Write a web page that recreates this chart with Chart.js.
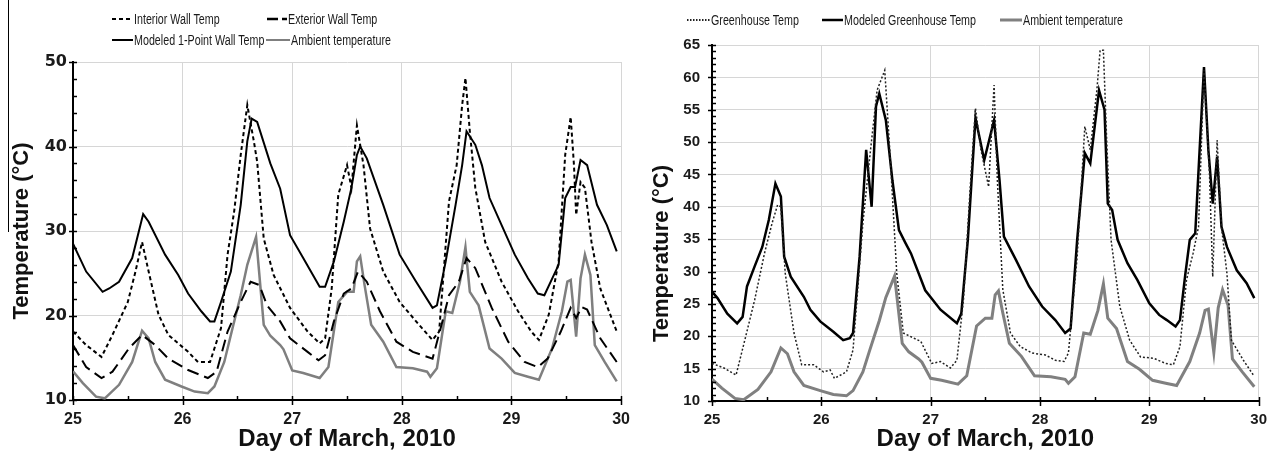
<!DOCTYPE html>
<html>
<head>
<meta charset="utf-8">
<script src="https://cdn.jsdelivr.net/npm/chart.js@4.4.1/dist/chart.umd.min.js"></script>
<style>
  html,body{margin:0;padding:0;background:#fff;}
  #wrap{position:relative;width:1277px;height:460px;overflow:hidden;background:#fff;}
  canvas{position:absolute;top:0;}
  .lg{position:absolute;font-family:"Liberation Sans",Arial,sans-serif;font-size:14px;line-height:16px;color:#1a1a1a;white-space:nowrap;transform:scaleX(0.765);transform-origin:0 50%;}
  .sw{position:absolute;}
  #edge{position:absolute;left:8px;top:0;width:1px;height:232px;background:#000;}
</style>
</head>
<body>
<div id="wrap">
  <div id="edge"></div>
  <canvas id="c1" width="640" height="460" style="left:0"></canvas>
  <canvas id="c2" width="637" height="460" style="left:640px"></canvas>
</div>
<script>
// ---------- DATA ----------
const dayTicks = ["25","26","27","28","29","30"];

// Ambient temperature (shared by both panels)
const ambDay = [25.00,25.09,25.21,25.29,25.42,25.54,25.63,25.69,25.75,25.84,25.99,26.11,26.23,26.29,26.38,26.44,26.53,26.59,26.67,26.74,26.80,26.89,26.92,27.00,27.10,27.25,27.33,27.42,27.50,27.56,27.59,27.62,27.66,27.72,27.83,27.95,28.10,28.23,28.26,28.32,28.40,28.46,28.53,28.58,28.62,28.70,28.80,28.91,29.03,29.15,29.25,29.37,29.46,29.51,29.54,29.59,29.63,29.67,29.72,29.76,29.85,29.96];
const ambT   = [13.4,12.0,10.4,10.2,11.8,14.5,18.2,17.3,14.5,12.4,11.6,11.0,10.8,11.6,14.5,17.7,22.4,26.0,29.3,18.9,17.6,16.5,16.0,13.5,13.2,12.6,13.9,21.6,22.8,22.8,26.4,27.0,23.6,18.9,16.9,13.9,13.75,13.35,12.75,13.75,20.5,20.3,24.0,28.1,22.8,21.2,16.1,14.9,13.2,12.75,12.4,16.1,20.5,24.0,24.2,17.5,24.4,27.2,24.8,16.5,14.5,12.2];

// Left panel: Modeled 1-Point Wall Temp
const mwDay = [25.00,25.12,25.27,25.33,25.42,25.54,25.64,25.69,25.84,25.96,26.05,26.17,26.25,26.29,26.35,26.44,26.53,26.59,26.63,26.68,26.80,26.89,26.98,27.10,27.25,27.30,27.38,27.47,27.54,27.59,27.62,27.68,27.83,27.98,28.13,28.28,28.32,28.40,28.49,28.55,28.59,28.67,28.73,28.80,28.91,29.03,29.15,29.24,29.30,29.43,29.49,29.54,29.58,29.63,29.69,29.78,29.87,29.96];
const mwT   = [28.5,25.2,22.8,23.2,24.0,26.8,32.0,31.1,27.2,24.8,22.6,20.5,19.3,19.3,21.6,25.2,33.1,40.6,43.3,42.9,38.0,35.0,29.5,26.8,23.4,23.4,26.4,31.1,35.1,39.0,40.0,38.6,33.1,27.2,24.0,20.9,21.2,26.4,33.1,37.8,41.8,40.2,37.8,33.9,30.7,27.2,24.4,22.6,22.4,26.0,33.9,35.2,35.2,38.4,37.8,33.1,30.7,27.6];

// Left panel: Interior Wall Temp
const iwDay = [25.00,25.12,25.26,25.36,25.50,25.57,25.63,25.69,25.78,25.87,26.05,26.14,26.25,26.35,26.41,26.47,26.53,26.59,26.65,26.68,26.74,26.83,26.98,27.14,27.25,27.30,27.36,27.42,27.50,27.54,27.59,27.65,27.71,27.83,27.98,28.13,28.28,28.34,28.37,28.43,28.50,28.55,28.58,28.62,28.67,28.76,28.91,29.06,29.18,29.25,29.34,29.43,29.49,29.54,29.57,29.59,29.63,29.67,29.73,29.81,29.96];
const iwT   = [18.1,16.5,15.1,17.7,21.6,25.2,28.7,25.2,20.1,17.7,15.7,14.5,14.5,18.5,27.2,32.3,39.0,44.9,40.6,38.2,29.1,24.8,20.9,18.1,16.7,17.3,23.2,34.3,37.8,35.1,42.5,37.8,30.3,25.2,21.6,19.3,17.1,18.1,23.2,33.5,37.8,44.9,48.1,41.8,35.1,28.7,24.0,20.5,18.1,17.1,20.1,26.4,39.0,43.5,37.8,31.9,35.8,35.1,28.7,23.2,18.1];

// Left panel: Exterior Wall Temp
const ewDay = [25.00,25.12,25.26,25.36,25.51,25.63,25.75,25.87,26.05,26.23,26.31,26.41,26.53,26.62,26.70,26.77,26.89,26.98,27.14,27.24,27.30,27.38,27.47,27.54,27.60,27.68,27.80,27.95,28.10,28.28,28.37,28.43,28.52,28.59,28.67,28.82,28.97,29.12,29.24,29.33,29.45,29.54,29.59,29.64,29.69,29.81,29.96];
const ewT   = [16.5,13.9,12.6,13.35,16.1,17.7,16.5,14.9,13.55,12.6,13.35,18.1,21.6,24.0,23.6,21.2,19.3,17.3,15.7,14.7,15.3,19.3,22.6,23.2,25.2,24.0,20.5,16.9,15.7,14.9,19.3,22.4,24.0,26.8,25.6,20.9,16.9,14.5,13.9,14.9,18.1,20.9,19.7,21.0,20.7,17.3,14.5];

// Right panel: Modeled Greenhouse Temp
const mgDay = [25.00,25.05,25.14,25.23,25.28,25.32,25.39,25.46,25.52,25.58,25.63,25.66,25.72,25.84,25.90,25.99,26.11,26.20,26.26,26.29,26.35,26.41,26.46,26.50,26.53,26.59,26.65,26.71,26.77,26.82,26.95,27.09,27.24,27.28,27.34,27.41,27.49,27.58,27.63,27.67,27.78,27.90,28.02,28.14,28.23,28.28,28.34,28.41,28.46,28.54,28.59,28.62,28.66,28.71,28.80,28.89,29.00,29.09,29.16,29.24,29.28,29.33,29.37,29.42,29.46,29.50,29.54,29.58,29.62,29.66,29.71,29.80,29.89,29.96];
const mgT   = [26.9,25.9,23.5,22.0,23.0,27.7,30.8,33.8,38.0,43.6,41.6,32.3,29.2,26.1,24.1,22.3,20.7,19.4,19.7,20.5,32.3,48.8,40.0,55.5,57.5,53.4,44.1,36.4,34.4,32.8,27.1,24.1,22.0,23.5,34.9,53.7,47.2,53.4,44.1,35.4,31.8,27.7,24.6,22.5,20.5,21.2,34.9,48.3,46.7,58.0,55.0,40.5,39.5,34.9,31.3,28.7,25.1,23.3,22.5,21.5,22.5,29.7,34.9,35.9,48.8,61.6,48.8,40.5,47.7,36.9,33.8,30.2,28.2,25.9];

// Right panel: Greenhouse Temp (measured)
const ghDay = [25.00,25.11,25.22,25.30,25.39,25.48,25.55,25.60,25.63,25.67,25.75,25.82,25.93,26.02,26.08,26.12,26.23,26.29,26.38,26.45,26.51,26.58,26.63,26.69,26.75,26.91,27.01,27.09,27.18,27.24,27.30,27.37,27.41,27.46,27.53,27.58,27.61,27.66,27.73,27.82,27.93,28.05,28.14,28.22,28.26,28.34,28.41,28.46,28.52,28.55,28.58,28.61,28.65,28.73,28.82,28.92,29.04,29.15,29.22,29.28,29.34,29.40,29.45,29.50,29.55,29.58,29.62,29.66,29.71,29.75,29.86,29.96];
const ghT   = [15.8,15.1,14.0,19.4,25.6,32.8,37.5,40.3,40.0,29.7,20.5,15.6,15.6,14.5,14.8,13.5,14.5,17.9,37.5,48.8,58.0,61.1,47.7,29.7,20.5,19.2,15.8,16.1,15.1,16.3,25.6,45.2,55.2,48.8,43.1,58.8,44.1,27.2,20.5,18.4,17.4,17.1,16.3,16.1,17.4,32.3,52.4,48.8,58.0,64.2,64.2,50.3,34.9,24.6,19.4,16.8,16.6,15.8,15.6,18.4,28.7,32.8,36.9,61.1,45.2,29.2,50.3,36.9,29.7,19.4,16.3,13.8];

const leftYTicks = ["10","20","30","40","50"];
const rightYTicks = ["10","15","20","25","30","35","40","45","50","55","60","65"];
// ---------- END DATA ----------

const pts = (xs, ys) => xs.map((x, i) => ({x, y: ys[i]}));
const FONT = '"Liberation Sans", Arial, Helvetica, sans-serif';

const tickMarks = {
  id: 'tickMarks',
  afterDraw(chart, args, o) {
    const {ctx, chartArea: a} = chart;
    const xs = chart.scales.x, ys = chart.scales.y;
    ctx.save();
    ctx.strokeStyle = '#000';
    ctx.lineWidth = 1.5;
    const ny = Math.round((ys.max - ys.min) / o.yMinor);
    for (let i = 0; i <= ny; i++) {
      const v = ys.min + i * o.yMinor;
      const major = Math.abs(v / o.yMajor - Math.round(v / o.yMajor)) < 1e-6;
      const py = Math.round(ys.getPixelForValue(v)) + 0.5;
      ctx.beginPath();
      ctx.moveTo(a.left - (major ? 4 : 0), py);
      ctx.lineTo(a.left + 4, py);
      ctx.stroke();
    }
    const nx = Math.round((xs.max - xs.min) / o.xMinor);
    for (let i = 0; i <= nx; i++) {
      const v = xs.min + i * o.xMinor;
      const major = Math.abs(v - Math.round(v)) < 1e-6;
      const px = Math.round(xs.getPixelForValue(v)) + 0.5;
      ctx.beginPath();
      ctx.moveTo(px, a.bottom + (major ? 5 : 0));
      ctx.lineTo(px, a.bottom - 4);
      ctx.stroke();
    }
    ctx.restore();
  }
};

function makeOptions(p) {
  return {
    responsive: false,
    animation: false,
    devicePixelRatio: 1,
    layout: {padding: {top: p.top, right: p.right, left: 0, bottom: 0}},
    plugins: {legend: {display: false}, tooltip: {enabled: false}, tickMarks: p.marks},
    elements: {point: {radius: 0}, line: {tension: 0}},
    scales: {
      x: {
        type: 'linear', min: 25, max: 30,
        afterFit: s => { s.height = p.xh; },
        afterBuildTicks: s => { s.ticks = dayTicks.map(t => ({value: Number(t)})); },
        grid: {color: '#d6d6d6', lineWidth: 1, drawTicks: false},
        border: {color: '#000', width: 2},
        ticks: {padding: 10, color: '#1a1a1a', font: {family: FONT, weight: 'bold', size: p.xtick}, maxRotation: 0,
                callback: v => dayTicks[Math.round(v - 25)]},
        title: {display: true, text: 'Day of March, 2010', color: '#111', padding: {top: 0, bottom: 6},
                font: {family: FONT, weight: 'bold', size: 24, lineHeight: 1.2}}
      },
      y: {
        type: 'linear', min: p.ymin, max: p.ymax,
        afterFit: s => { s.width = p.yw; },
        afterBuildTicks: s => { s.ticks = p.yticks.map(t => ({value: Number(t)})); },
        grid: {color: '#d6d6d6', lineWidth: 1, drawTicks: false},
        border: {color: '#000', width: 2},
        ticks: {padding: p.ypad, color: '#1a1a1a', font: {family: p.yfont, weight: 'bold', size: p.ytick},
                callback: v => String(v)},
        title: {display: true, text: p.ytitle, color: '#111', padding: {top: 9, bottom: 0},
                font: {family: FONT, weight: 'bold', size: 22, lineHeight: 1.2}}
      }
    }
  };
}

new Chart(document.getElementById('c1'), {
  type: 'line',
  data: {datasets: [
    {label: 'Interior Wall Temp', data: pts(iwDay, iwT), borderColor: '#000', borderWidth: 2, borderDash: [4, 3]},
    {label: 'Exterior Wall Temp', data: pts(ewDay, ewT), borderColor: '#000', borderWidth: 2, borderDash: [12, 6]},
    {label: 'Modeled 1-Point Wall Temp', data: pts(mwDay, mwT), borderColor: '#000', borderWidth: 2},
    {label: 'Ambient temperature', data: pts(ambDay, ambT), borderColor: '#7f7f7f', borderWidth: 2.5}
  ]},
  options: makeOptions({top: 62, right: 12, xh: 60, yw: 73, ymin: 10, ymax: 50, yticks: leftYTicks,
    ypad: 6, ytick: 16, xtick: 16, yfont: '"DejaVu Sans", ' + FONT, ytitle: 'Temperature (°C)',
    marks: {yMinor: 2, yMajor: 10, xMinor: 0.5}}),
  plugins: [tickMarks]
});

new Chart(document.getElementById('c2'), {
  type: 'line',
  data: {datasets: [
    {label: 'Greenhouse Temp', data: pts(ghDay, ghT), borderColor: '#222', borderWidth: 1.5, borderDash: [2, 2]},
    {label: 'Modeled Greenhouse Temp', data: pts(mgDay, mgT), borderColor: '#000', borderWidth: 2.5},
    {label: 'Ambient temperature', data: pts(ambDay, ambT), borderColor: '#808080', borderWidth: 3}
  ]},
  options: makeOptions({top: 45, right: 11, xh: 59, yw: 72, ymin: 10, ymax: 65, yticks: rightYTicks,
    ypad: 12, ytick: 15, xtick: 15, yfont: FONT, ytitle: 'Temperature (°C)          ',
    marks: {yMinor: 1, yMajor: 5, xMinor: 0.5}}),
  plugins: [tickMarks]
});

// HTML legends
const legendItems = [
  {label: 'Interior Wall Temp', sx: 112, sy: 19, tx: 134, color: '#000', w: 2, dash: '4,3'},
  {label: 'Exterior Wall Temp', sx: 267, sy: 19, tx: 288, color: '#000', w: 2.5, dash: '11,4'},
  {label: 'Modeled 1-Point Wall Temp', sx: 112, sy: 40, tx: 134, color: '#000', w: 2, dash: ''},
  {label: 'Ambient temperature', sx: 266, sy: 40, tx: 291, color: '#7f7f7f', w: 2, dash: ''},
  {label: 'Greenhouse Temp', sx: 687, sy: 20, tx: 711, color: '#222', w: 2, dash: '1.5,1.5'},
  {label: 'Modeled Greenhouse Temp', sx: 822, sy: 20, tx: 844, color: '#000', w: 2.5, dash: ''},
  {label: 'Ambient temperature', sx: 1000, sy: 20, tx: 1023, color: '#808080', w: 3, dash: ''}
];
const wrap = document.getElementById('wrap');
legendItems.forEach(it => {
  const len = it.tx - it.sx - 1;
  const sw = document.createElementNS('http://www.w3.org/2000/svg', 'svg');
  sw.setAttribute('class', 'sw');
  sw.setAttribute('width', len);
  sw.setAttribute('height', 8);
  sw.style.left = it.sx + 'px';
  sw.style.top = (it.sy - 4) + 'px';
  const ln = document.createElementNS('http://www.w3.org/2000/svg', 'line');
  ln.setAttribute('x1', 0); ln.setAttribute('x2', len);
  ln.setAttribute('y1', 4); ln.setAttribute('y2', 4);
  ln.setAttribute('stroke', it.color);
  ln.setAttribute('stroke-width', it.w);
  if (it.dash) ln.setAttribute('stroke-dasharray', it.dash);
  sw.appendChild(ln);
  wrap.appendChild(sw);
  const t = document.createElement('div');
  t.className = 'lg';
  t.textContent = it.label;
  t.style.left = it.tx + 'px';
  t.style.top = (it.sy - 8) + 'px';
  wrap.appendChild(t);
});
</script>
</body>
</html>
